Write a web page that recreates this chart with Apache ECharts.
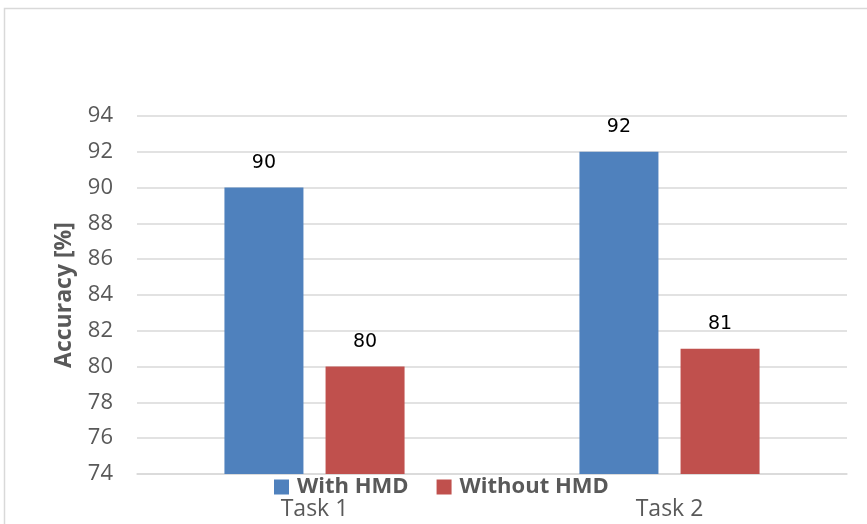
<!DOCTYPE html>
<html>
<head>
<meta charset="utf-8">
<script src="https://cdn.jsdelivr.net/npm/echarts@6/dist/echarts.min.js"></script>
<style>
  html, body { margin: 0; padding: 0; background: #fff; }
  #chart { width: 867px; height: 524px; }
</style>
</head>
<body>
<div id="chart"></div>
<script>
// Task accuracy with and without a head-mounted display
const categories = ['Task 1', 'Task 2'];
const withHMD = [90, 92];
const withoutHMD = [80, 81];
const yTicks = { min: 74, max: 94, interval: 2 };

const textGray = '#595959';
const font = 'Open Sans';

const chart = echarts.init(document.getElementById('chart'));
chart.setOption({
  animation: false,
  graphic: [{
    type: 'rect',
    shape: { x: 4.5, y: 8.5, width: 880, height: 540 },
    style: { fill: 'none', stroke: '#d9d9d9', lineWidth: 1.5 },
    silent: true
  }],
  grid: { left: 137, right: 20, top: 116, bottom: 50, containLabel: false },
  legend: {
    bottom: 21,
    left: 269,
    itemWidth: 15,
    itemHeight: 15,
    itemGap: 28,
    icon: 'rect',
    textStyle: { fontFamily: font, fontSize: 22, fontWeight: 'bold', color: textGray, padding: [0, 0, 0, 3] }
  },
  xAxis: {
    type: 'category',
    data: categories,
    axisLine: { lineStyle: { color: '#d9d9d9', width: 1.5 } },
    axisTick: { show: false },
    axisLabel: { margin: 24, fontFamily: font, fontSize: 23, color: textGray }
  },
  yAxis: {
    type: 'value',
    min: yTicks.min,
    max: yTicks.max,
    interval: yTicks.interval,
    name: 'Accuracy [%]',
    nameLocation: 'middle',
    nameGap: 61,
    nameTextStyle: { fontFamily: font, fontSize: 23, fontWeight: 'bold', color: textGray },
    axisLine: { show: false },
    axisTick: { show: false },
    axisLabel: { margin: 24, fontFamily: font, fontSize: 22, color: textGray },
    splitLine: { lineStyle: { color: '#d9d9d9', width: 1.5 } }
  },
  series: [
    {
      name: 'With HMD',
      type: 'bar',
      data: withHMD,
      barWidth: 79,
      barGap: '28%',
      itemStyle: { color: '#4f81bd' },
      label: { show: true, position: 'top', distance: 15, fontFamily: 'DejaVu Sans', fontSize: 19, color: '#000' }
    },
    {
      name: 'Without HMD',
      type: 'bar',
      data: withoutHMD,
      barWidth: 79,
      itemStyle: { color: '#c0504d' },
      label: { show: true, position: 'top', distance: 15, fontFamily: 'DejaVu Sans', fontSize: 19, color: '#000' }
    }
  ]
});
</script>
</body>
</html>
